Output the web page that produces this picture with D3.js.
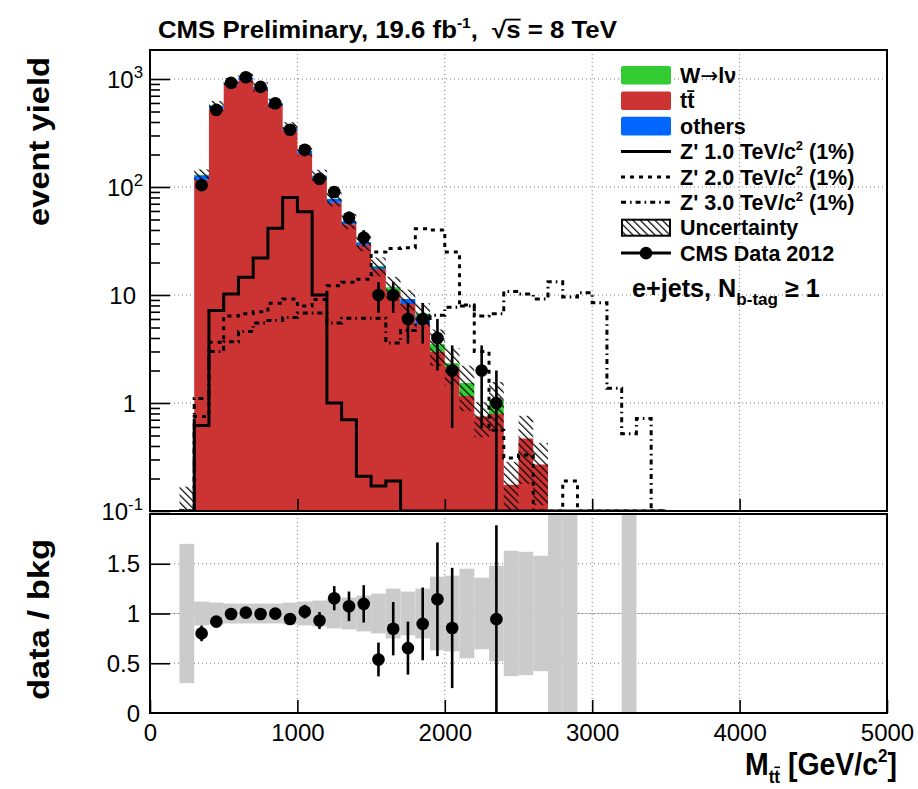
<!DOCTYPE html>
<html>
<head>
<meta charset="utf-8">
<title>M_tt event yield, e+jets</title>
<script src="https://cdn.jsdelivr.net/npm/d3@7/dist/d3.min.js"></script>
<style>
  html, body { margin: 0; padding: 0; background: #ffffff; }
  svg { display: block; }
  text { font-family: "Liberation Sans", Arial, Helvetica, sans-serif; fill: #000; white-space: pre; }
</style>
</head>
<body>
<svg id="chart" width="918" height="789" xmlns="http://www.w3.org/2000/svg"></svg>
<script>
// Reconstructed t-tbar invariant mass, e+jets channel with at least one b-tag.
// Histogram bins are 100 GeV/c^2 wide; lower edges:
const binLow = [200, 300, 400, 500, 600, 700, 800, 900, 1000, 1100, 1200, 1300, 1400, 1500, 1600, 1700,
                1800, 1900, 2000, 2100, 2200, 2300, 2400, 2500, 2600, 2700, 2800, 2900, 3000, 3100, 3200, 3300, 3400];
const binWidth = 100;

// Stacked background expectations (events per bin)
const ttbarYield  = [0.095, 117, 529, 878, 975, 806, 562, 336, 202, 122, 71.3, 45.3, 29.0, 17.45, 10.83, 8.27,
                     5.35, 3.0, 2.15, 1.16, 0.75, 0.79, 0.175, 0.47, 0.27, 0.03, 0.03, 0, 0, 0, 0.03, 0, 0];
const othersYield = [0.004, 11.8, 33, 45, 50, 41, 33, 21, 14, 5.5, 6.3, 3.0, 1.8, 0.76, 0, 0.93,
                     1.0, 0, 0, 0, 0, 0, 0, 0, 0, 0, 0, 0, 0, 0, 0, 0, 0];
const wjetsYield  = [0, 1.2, 2, 2, 3, 2, 2, 2, 1, 0.5, 0.4, 0.2, 0.2, 0.39, 0.97, 0,
                     0.35, 0.5, 0.19, 0.37, 0, 0.27, 0, 0, 0, 0, 0, 0, 0, 0, 0, 0, 0];
// Relative uncertainty on the total background
const bkgRelUnc   = [0.70, 0.12, 0.11, 0.10, 0.10, 0.10, 0.10, 0.11, 0.12, 0.13, 0.15, 0.16, 0.18, 0.20, 0.25, 0.22,
                     0.25, 0.37, 0.38, 0.45, 0.36, 0.48, 0.63, 0.62, 0.58, 1.5, 1.5, 0, 0, 0, 1.5, 0, 0];
// Observed events, 2012 data
const dataCounts  = [0, 104, 518, 921, 1037, 845, 596, 339, 221, 119, 90, 52, 34, 10, 10, 6,
                     6, 4, 2, 0, 2, 1, 0, 0, 0, 0, 0, 0, 0, 0, 0, 0, 0];
// Z' signal templates (1% width)
const zp1000 = [0, 0.62, 7.2, 10.2, 14.6, 22, 41.5, 80, 59, 10.0, 1.0, 0.70, 0.21, 0.17, 0.19, 0,
                0, 0, 0, 0, 0, 0, 0, 0, 0, 0, 0, 0, 0, 0, 0, 0, 0];
const zp2000 = [0, 0.75, 3.66, 6.4, 6.7, 7.0, 8.4, 9.2, 7.9, 9.1, 12.2, 13.1, 14.0, 25, 27, 27.4,
                41, 40, 25, 8.1, 3.0, 0.56, 0.31, 0.33, 0, 0, 0.19, 0, 0, 0, 0, 0, 0];
const zp3000 = [0, 1.1, 3.0, 3.7, 4.6, 5.5, 5.8, 6.2, 6.8, 6.8, 5.5, 6.1, 6.1, 6.1, 3.6, 4.7,
                5.5, 6.5, 7.7, 7.9, 6.4, 6.7, 10.8, 10.2, 9.2, 13.3, 9.6, 10.5, 8.5, 1.37, 0.52, 0.72, 0];

// Axis ticks and labels
const xTicks = [0, 1000, 2000, 3000, 4000, 5000];
const yMainTicks = [0.1, 1, 10, 100, 1000];
const yMainLabels = [["10", "-1"], ["1", null], ["10", null], ["10", "2"], ["10", "3"]];
const yRatioTicks = [0, 0.5, 1, 1.5];
const yRatioLabels = ["0", "0.5", "1", "1.5"];

// Colours
const colTT = "#cc3333", colOthers = "#0066ff", colW = "#33cc33", colBand = "#cbcbcb";

const svg = d3.select("#chart");
const X0 = 150, X1 = 887, MY0 = 50, MY1 = 511, RY0 = 514, RY1 = 713;

const x = d3.scaleLinear().domain([0, 5000]).range([X0, X1]);
const yMain = d3.scaleLog().domain([0.1, 1856]).range([MY1, MY0]).clamp(true);
const yRatio = d3.scaleLinear().domain([0, 2]).range([RY1, RY0]).clamp(true);

svg.append("rect").attr("width", 918).attr("height", 789).attr("fill", "#fff");

const defs = svg.append("defs");
defs.append("clipPath").attr("id", "clipMain").append("rect")
  .attr("x", X0).attr("y", MY0).attr("width", X1 - X0).attr("height", MY1 - MY0);
defs.append("clipPath").attr("id", "clipRatio").append("rect")
  .attr("x", X0).attr("y", RY0).attr("width", X1 - X0).attr("height", RY1 - RY0);
const hatch = defs.append("pattern").attr("id", "hatch").attr("patternUnits", "userSpaceOnUse")
  .attr("width", 5.2).attr("height", 5.2).attr("patternTransform", "rotate(-45)");
hatch.append("line").attr("x1", 0.6).attr("y1", 0).attr("x2", 0.6).attr("y2", 5.2)
  .attr("stroke", "#000").attr("stroke-width", 1.2);

// ---------- rich text helper (sub/superscripts, overbars, width fitting) ----------
function richText(parent, opt, parts) {
  const size = opt.size;
  const g = parent.append("g");
  const t = g.append("text").attr("text-anchor", opt.anchor || "start")
    .attr("font-weight", opt.weight || "bold").attr("font-size", size);
  let shift = 0, idx = 0;
  const overs = [];
  parts.forEach(p => {
    const fs = (p.sup || p.sub) ? size * (p.scale || 0.62) : size;
    const target = p.sup ? -size * 0.42 : p.sub ? size * (p.drop || 0.3) : 0;
    const ts = t.append("tspan").text(p.t).attr("font-size", fs);
    if (p.ff) ts.style("font-family", p.ff);
    if (p.fw) ts.attr("font-weight", p.fw);
    if (target !== shift) ts.attr("dy", target - shift);
    shift = target;
    (p.over || []).forEach(k => overs.push({ k: idx + k, fs, ext: p.ext || 0 }));
    idx += p.t.length;
  });
  let sx = 1;
  if (opt.width) sx = opt.width / t.node().getComputedTextLength();
  g.attr("transform", `translate(${opt.x},${opt.y}) rotate(${opt.rotate || 0}) scale(${sx},1)`);
  overs.forEach(o => {
    const a = t.node().getStartPositionOfChar(o.k), b = t.node().getEndPositionOfChar(o.k);
    const yy = a.y - o.fs * 0.8;
    g.append("line").attr("x1", a.x - o.ext).attr("x2", b.x).attr("y1", yy).attr("y2", yy)
      .attr("stroke", "#000").attr("stroke-width", Math.max(1.2, o.fs * 0.08));
  });
  return g;
}

// ---------- grids ----------
function grid(g, y0, y1, yVals, yScale) {
  g.selectAll("line.gx").data(xTicks.slice(1, -1)).join("line")
    .attr("x1", d => x(d)).attr("x2", d => x(d)).attr("y1", y0).attr("y2", y1)
    .attr("stroke", "#7a7a7a").attr("stroke-width", 1).attr("stroke-dasharray", "1,3");
  g.selectAll("line.gy").data(yVals).join("line").attr("class", "gy")
    .attr("x1", X0).attr("x2", X1).attr("y1", d => yScale(d)).attr("y2", d => yScale(d))
    .attr("stroke", "#7a7a7a").attr("stroke-width", 1).attr("stroke-dasharray", "1,3");
}
grid(svg.append("g"), MY0, MY1, [1, 10, 100, 1000], yMain);
const rGrid = svg.append("g");
rGrid.append("line").attr("x1", X0).attr("x2", X1).attr("y1", yRatio(1)).attr("y2", yRatio(1))
  .attr("stroke", "#c4c4c4").attr("stroke-width", 1);
grid(rGrid, RY0, RY1, [0.5, 1, 1.5], yRatio);

// ---------- stacked backgrounds ----------
const bins = binLow.map((lo, i) => ({
  lo, hi: lo + binWidth, c: lo + binWidth / 2,
  tt: ttbarYield[i], oth: othersYield[i], w: wjetsYield[i],
  total: ttbarYield[i] + othersYield[i] + wjetsYield[i],
  rel: bkgRelUnc[i], n: dataCounts[i]
}));

function stepPts(loF, hiF) {
  const pts = bins.map(b => ({ x: b.lo, a: loF(b), b: hiF(b) }));
  const last = bins[bins.length - 1];
  pts.push({ x: last.hi, a: loF(last), b: hiF(last) });
  return pts;
}
const stepArea = d3.area().curve(d3.curveStepAfter)
  .x(d => x(d.x)).y0(d => yMain(d.a)).y1(d => yMain(d.b));

const main = svg.append("g").attr("clip-path", "url(#clipMain)");
main.append("path").attr("d", stepArea(stepPts(() => 0, b => b.tt))).attr("fill", colTT);
main.append("path").attr("d", stepArea(stepPts(b => b.tt, b => b.tt + b.oth))).attr("fill", colOthers);
main.append("path").attr("d", stepArea(stepPts(b => b.tt + b.oth, b => b.total))).attr("fill", colW);

// background uncertainty (hatched)
main.selectAll("rect.unc").data(bins.filter(b => b.total > 0 && b.rel > 0)).join("rect")
  .attr("class", "unc")
  .attr("x", b => x(b.lo)).attr("width", b => x(b.hi) - x(b.lo))
  .attr("y", b => yMain(b.total * (1 + b.rel)))
  .attr("height", b => yMain(Math.max(b.total * (1 - b.rel), 1e-6)) - yMain(b.total * (1 + b.rel)))
  .attr("fill", "url(#hatch)");

// ---------- signal templates ----------
function sigPts(arr) {
  const pts = bins.map((b, i) => ({ x: b.lo, v: arr[i] }));
  pts.push({ x: bins[bins.length - 1].hi, v: arr[arr.length - 1] });
  return pts;
}
const stepLine = d3.line().curve(d3.curveStepAfter).x(d => x(d.x)).y(d => yMain(d.v));
const sigStyles = [
  { data: zp1000, dash: null },
  { data: zp2000, dash: "4,5" },
  { data: zp3000, dash: "5,4,1.6,4" }
];
sigStyles.forEach(s => {
  main.append("path").attr("d", stepLine(sigPts(s.data))).attr("fill", "none")
    .attr("stroke", "#000").attr("stroke-width", 3)
    .attr("stroke-dasharray", s.dash).attr("stroke-linejoin", "miter");
});

// ---------- data ----------
const dataBins = bins.filter(b => b.n > 0);
main.selectAll("line.err").data(dataBins).join("line").attr("class", "err")
  .attr("x1", b => x(b.c)).attr("x2", b => x(b.c))
  .attr("y1", b => yMain(b.n + Math.sqrt(b.n)))
  .attr("y2", b => yMain(Math.max(b.n - Math.sqrt(b.n), 1e-6)))
  .attr("stroke", "#000").attr("stroke-width", 2.6);
main.selectAll("circle.pt").data(dataBins).join("circle").attr("class", "pt")
  .attr("cx", b => x(b.c)).attr("cy", b => yMain(b.n)).attr("r", 6.3).attr("fill", "#000");

// ---------- ratio panel ----------
const ratio = svg.append("g").attr("clip-path", "url(#clipRatio)");
ratio.selectAll("rect.band").data(bins.filter(b => b.total > 0 && b.rel > 0)).join("rect")
  .attr("class", "band")
  .attr("x", b => x(b.lo)).attr("width", b => x(b.hi) - x(b.lo))
  .attr("y", b => yRatio(1 + b.rel)).attr("height", b => yRatio(1 - b.rel) - yRatio(1 + b.rel))
  .attr("fill", colBand);
const ratioPts = bins.filter(b => b.n > 0 && b.total > 0)
  .map(b => ({ c: b.c, r: b.n / b.total, e: Math.sqrt(b.n) / b.total }))
  .filter(p => p.r >= 0 && p.r <= 2);
ratio.selectAll("line.rerr").data(ratioPts).join("line").attr("class", "rerr")
  .attr("x1", p => x(p.c)).attr("x2", p => x(p.c))
  .attr("y1", p => yRatio(p.r + p.e)).attr("y2", p => yRatio(p.r - p.e))
  .attr("stroke", "#000").attr("stroke-width", 2.6);
ratio.selectAll("circle.rpt").data(ratioPts).join("circle").attr("class", "rpt")
  .attr("cx", p => x(p.c)).attr("cy", p => yRatio(p.r)).attr("r", 6.3).attr("fill", "#000");

// ---------- frames and axes ----------
[[MY0, MY1], [RY0, RY1]].forEach(([a, b]) => {
  svg.append("rect").attr("x", X0).attr("y", a).attr("width", X1 - X0).attr("height", b - a)
    .attr("fill", "none").attr("stroke", "#000").attr("stroke-width", 2);
});

function styleAxis(g) {
  g.select(".domain").remove();
  g.attr("color", "#000");
  g.selectAll(".tick line").attr("stroke-width", 1.6);
}
const minorY = yMain.ticks().filter(v => Math.abs(Math.log10(v) - Math.round(Math.log10(v))) > 1e-6);
svg.append("g").attr("transform", `translate(${X0},0)`)
  .call(d3.axisLeft(yMain).tickValues(yMainTicks).tickSize(-20).tickFormat("")).call(styleAxis);
svg.append("g").attr("transform", `translate(${X0},0)`)
  .call(d3.axisLeft(yMain).tickValues(minorY).tickSize(-10).tickFormat("")).call(styleAxis);
svg.append("g").attr("transform", `translate(0,${MY1})`)
  .call(d3.axisBottom(x).tickValues(xTicks.slice(1, -1)).tickSize(-12).tickFormat("")).call(styleAxis);

svg.append("g").attr("transform", `translate(${X0},0)`)
  .call(d3.axisLeft(yRatio).tickValues(yRatioTicks.slice(1)).tickSize(-20).tickFormat("")).call(styleAxis);

const xAxis = svg.append("g").attr("transform", `translate(0,${RY1})`)
  .call(d3.axisBottom(x).tickValues(xTicks).tickSize(-13).tickPadding(11).tickFormat(d3.format("d")))
  .call(styleAxis);
xAxis.selectAll("text").attr("font-size", 24).attr("font-family", "'Liberation Sans', Arial, sans-serif");

// ratio y labels
svg.selectAll("text.rlab").data(yRatioTicks).join("text").attr("class", "rlab")
  .attr("x", 140).attr("y", d => yRatio(d) + 8.6).attr("text-anchor", "end")
  .attr("font-size", 24).text((d, i) => yRatioLabels[i]);

// main y labels (powers of ten)
yMainTicks.forEach((v, i) => {
  const [base, exp] = yMainLabels[i];
  const parts = exp ? [{ t: base }, { t: exp, sup: true, scale: 0.7 }] : [{ t: base }];
  richText(svg, { x: exp ? 143 : 136, y: yMain(v) + 8.6, size: 24, weight: "normal", anchor: "end" }, parts);
});

// ---------- titles ----------
richText(svg, { x: 158, y: 38, size: 23, width: 459 }, [
  { t: "CMS Preliminary, 19.6 fb" }, { t: "-1", sup: true, scale: 0.6 },
  { t: ",  √" }, { t: "s", over: [0], ext: 1 }, { t: " = 8 TeV" }
]);
richText(svg, { x: 49, y: 57, size: 30, rotate: -90, anchor: "end", width: 169 }, [{ t: "event yield" }]);
richText(svg, { x: 49, y: 539, size: 30, rotate: -90, anchor: "end", width: 161 }, [{ t: "data / bkg" }]);
richText(svg, { x: 897, y: 775, size: 32, anchor: "end", width: 152 }, [
  { t: "M" }, { t: "tt", sub: true, scale: 0.6, drop: 0.24, over: [1] }, { t: " [GeV/c" },
  { t: "2", sup: true, scale: 0.6 }, { t: "]" }
]);
richText(svg, { x: 632, y: 297, size: 25, width: 188 }, [
  { t: "e+jets, N" }, { t: "b-tag", sub: true, scale: 0.68 }, { t: " ≥ 1" }
]);

// ---------- legend ----------
const legend = [
  { kind: "box", fill: colW, parts: [{ t: "W" }, { t: "→", ff: "'DejaVu Sans', sans-serif", fw: "normal" }, { t: "lν" }] },
  { kind: "box", fill: colTT, parts: [{ t: "tt", over: [1] }] },
  { kind: "box", fill: colOthers, parts: [{ t: "others" }] },
  { kind: "line", dash: null, parts: [{ t: "Z' 1.0 TeV/c" }, { t: "2", sup: true, scale: 0.6 }, { t: " (1%)" }] },
  { kind: "line", dash: "4,5", parts: [{ t: "Z' 2.0 TeV/c" }, { t: "2", sup: true, scale: 0.6 }, { t: " (1%)" }] },
  { kind: "line", dash: "5,4,1.6,4", parts: [{ t: "Z' 3.0 TeV/c" }, { t: "2", sup: true, scale: 0.6 }, { t: " (1%)" }] },
  { kind: "hatch", parts: [{ t: "Uncertainty" }] },
  { kind: "data", parts: [{ t: "CMS Data 2012" }] }
];
const lg = svg.append("g");
legend.forEach((e, i) => {
  const cy = 75.3 + i * 25.4;
  if (e.kind === "box") {
    lg.append("rect").attr("x", 621).attr("y", cy - 9.3).attr("width", 50).attr("height", 18.6)
      .attr("rx", 2).attr("fill", e.fill);
  } else if (e.kind === "line") {
    lg.append("line").attr("x1", 621).attr("x2", 671).attr("y1", cy).attr("y2", cy)
      .attr("stroke", "#000").attr("stroke-width", 3).attr("stroke-dasharray", e.dash);
  } else if (e.kind === "hatch") {
    lg.append("rect").attr("x", 622).attr("y", cy - 8).attr("width", 48).attr("height", 16)
      .attr("fill", "url(#hatch)").attr("stroke", "#000").attr("stroke-width", 2);
  } else {
    lg.append("line").attr("x1", 621).attr("x2", 671).attr("y1", cy).attr("y2", cy)
      .attr("stroke", "#000").attr("stroke-width", 3);
    lg.append("circle").attr("cx", 646).attr("cy", cy).attr("r", 6.3).attr("fill", "#000");
  }
  richText(lg, { x: 680, y: cy + 7.6, size: 21.5 }, e.parts);
});
</script>
</body>
</html>
